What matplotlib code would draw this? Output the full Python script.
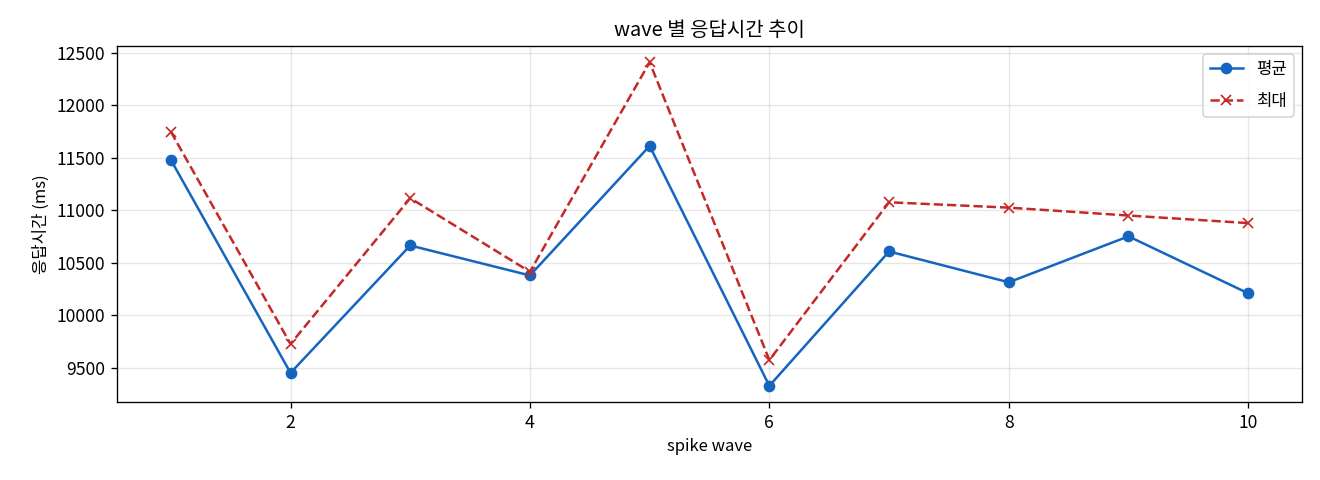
import matplotlib
matplotlib.use("Agg")
import matplotlib.pyplot as plt

plt.rcParams['font.family'] = ['Noto Sans CJK KR', 'DejaVu Sans']
plt.rcParams['axes.unicode_minus'] = False

waves = [1, 2, 3, 4, 5, 6, 7, 8, 9, 10]
avg_ms = [11480, 9453, 10665, 10380, 11612, 9330, 10608, 10315, 10752, 10210]
max_ms = [11748, 9728, 11115, 10415, 12408, 9575, 11076, 11025, 10950, 10878]

fig, ax = plt.subplots(figsize=(11, 4), dpi=120)
fig.subplots_adjust(left=0.0886, right=0.9864, top=0.904, bottom=0.1625)
ax.plot(waves, avg_ms, marker='o', linestyle='-', color='#1565C0', label='평균')
ax.plot(waves, max_ms, marker='x', linestyle='--', color='#C62828', label='최대')
ax.set_title('wave 별 응답시간 추이')
ax.set_xlabel('spike wave')
ax.set_ylabel('응답시간 (ms)')
ax.tick_params(labelsize=10.5)
ax.grid(True, alpha=0.3)
ax.legend(loc='upper right', labelspacing=0.9)
fig.savefig('out.png')
